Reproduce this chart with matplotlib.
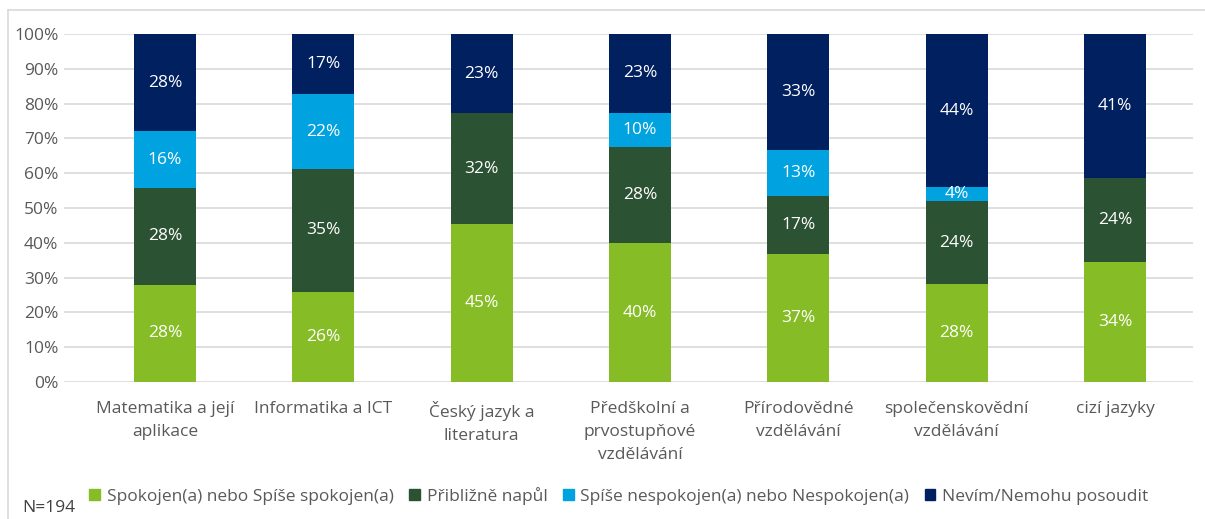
import matplotlib
matplotlib.use("Agg")
import matplotlib.pyplot as plt
import numpy as np
from matplotlib.lines import Line2D

categories = ["Matematika a její\naplikace", "Informatika a ICT", "Český jazyk a\nliteratura",
              "Předškolní a\nprvostupňové\nvzdělávání", "Přírodovědné\nvzdělávání",
              "společenskovědní\nvzdělávání", "cizí jazyky"]
series = ["Spokojen(a) nebo Spíše spokojen(a)", "Přibližně napůl",
          "Spíše nespokojen(a) nebo Nespokojen(a)", "Nevím/Nemohu posoudit"]
spokojen = [27.9, 26.0, 45.4, 39.9, 36.8, 28.2, 34.5]
napul = [27.9, 35.1, 31.8, 27.6, 16.6, 23.7, 24.1]
nespokojen = [16.2, 21.6, 0.0, 9.8, 13.3, 4.1, 0.0]
nevim = [28.0, 17.3, 22.8, 22.7, 33.3, 44.0, 41.4]
colors = ["#86BC25", "#2C5234", "#00A3E0", "#002060"]
note = "N=194"

FS = 12.5
plt.rcParams['font.family'] = ['Open Sans', 'DejaVu Sans']
fig = plt.figure(figsize=(12.05, 5.19), dpi=100)
ax = fig.add_axes([64 / 1205, 1 - 382 / 519, (1193 - 64) / 1205, 348 / 519])

x = np.arange(len(categories))
bottom = np.zeros(len(categories))
for vals, col in zip([spokojen, napul, nespokojen, nevim], colors):
    vals = np.array(vals)
    ax.bar(x, vals, 0.39, bottom=bottom, color=col, zorder=3)
    for xi, b, v in zip(x, bottom, vals):
        if v > 0:
            ax.text(xi, b + v / 2, f"{v:.0f}%", ha="center", va="center",
                    color="white", fontsize=FS, zorder=4)
    bottom += vals

# category width ~158.5 px, first bar centred at x~165 px
ax.set_xlim(-(165 - 64) / 158.5, 6 + (1193 - 1115) / 158.5)
ax.set_ylim(0, 100)
ax.set_yticks(np.arange(0, 101, 10))
ax.set_yticklabels([f"{t}%" for t in range(0, 101, 10)], fontsize=FS, color="#595959")
ax.set_xticks(x)
ax.set_xticklabels(categories, fontsize=FS, color="#595959", va="top", linespacing=1.55)
ax.tick_params(length=0)
ax.tick_params(axis="y", pad=4)
ax.tick_params(axis="x", pad=14)
ax.grid(axis="y", color="#D9D9D9", lw=1.2, zorder=0)
for s in ax.spines.values():
    s.set_visible(False)

handles = [plt.Rectangle((0, 0), 1, 1, color=c) for c in colors]
fig.legend(handles, series, loc="center", bbox_to_anchor=(619 / 1205, 1 - 496 / 519),
           ncol=4, frameon=False, fontsize=FS, handlelength=0.6, handleheight=0.6,
           handletextpad=0.4, columnspacing=0.9, labelcolor="#595959")
fig.text(22 / 1205, 1 - 508 / 519, note, fontsize=FS, color="#404040", va="center")

# chart frame (top and left edges visible)
fig.add_artist(Line2D([8 / 1205, 8 / 1205], [0, 1 - 10 / 519], transform=fig.transFigure,
                      color="#D9D9D9", lw=1.2))
fig.add_artist(Line2D([8 / 1205, 1], [1 - 10 / 519, 1 - 10 / 519], transform=fig.transFigure,
                      color="#D9D9D9", lw=1.2))

fig.savefig("out.png", dpi=100)
